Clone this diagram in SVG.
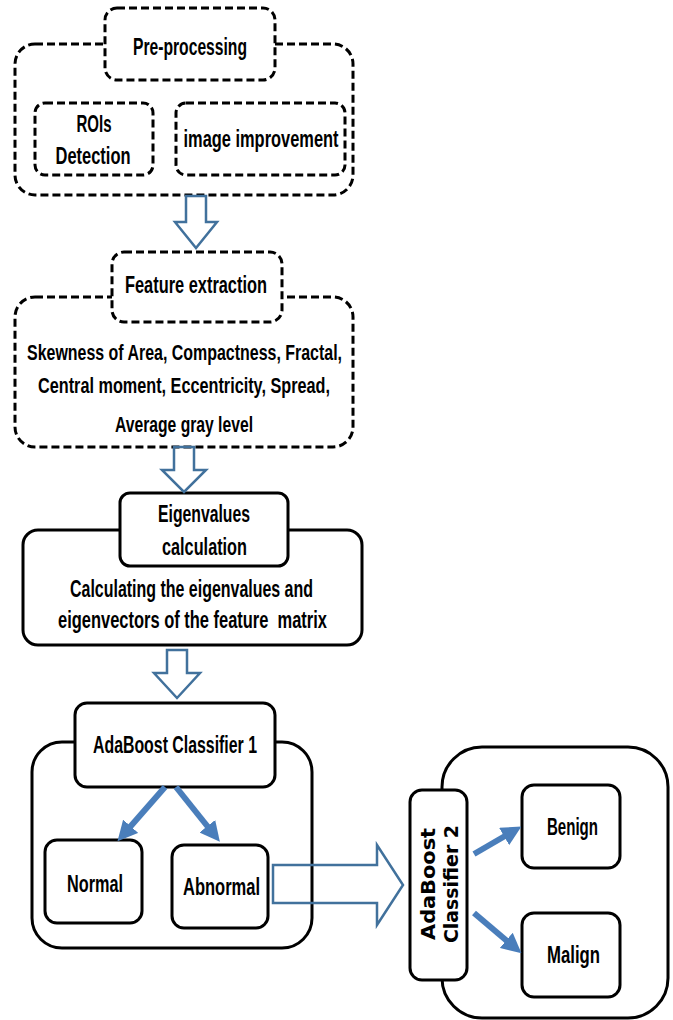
<svg xmlns="http://www.w3.org/2000/svg" width="673" height="1020" viewBox="0 0 673 1020">
<style>
  .dash { fill: #ffffff; stroke: #000; stroke-width: 3; stroke-dasharray: 8 4; }
  .solid { fill: #ffffff; stroke: #000; stroke-width: 3; }
  .hollow { fill: none; stroke: #41719C; stroke-width: 2.5; stroke-linejoin: miter; }
  .thick { stroke: #4A7EBB; stroke-width: 6; fill: none; marker-end: url(#head); }
  text { font-family: "Liberation Sans", Arial, sans-serif; font-weight: bold; fill: #000; text-anchor: middle; }
  .t21 { font-size: 23px; }
  .t19 { font-size: 21.5px; }
  .vert { font-family: "DejaVu Sans", Verdana, sans-serif; font-size: 20px; }
</style>
<defs>
  <marker id="head" viewBox="0 0 20 20" refX="1" refY="10" markerWidth="20" markerHeight="20" markerUnits="userSpaceOnUse" orient="auto">
    <path d="M0,0 L20,10 L0,20 z" fill="#4A7EBB"/>
  </marker>
</defs>

<g id="preprocessing">
  <rect class="dash" x="15" y="44" width="338" height="151" rx="20"/>
  <rect class="dash" x="105" y="8" width="170" height="72" rx="12"/>
  <text class="t21" x="190" y="55" textLength="114" lengthAdjust="spacingAndGlyphs">Pre-processing</text>
</g>
<g id="rois">
  <rect class="dash" x="35" y="103" width="118" height="72" rx="10"/>
  <text class="t21" x="94" y="132" textLength="35" lengthAdjust="spacingAndGlyphs">ROIs</text>
  <text class="t21" x="93" y="164" textLength="75" lengthAdjust="spacingAndGlyphs">Detection</text>
</g>
<g id="improvement">
  <rect class="dash" x="176" y="103" width="169" height="72" rx="10"/>
  <text class="t21" x="261" y="147" textLength="155" lengthAdjust="spacingAndGlyphs">image improvement</text>
</g>

<g id="feature">
  <rect class="dash" x="15" y="297" width="338" height="150" rx="20"/>
  <rect class="dash" x="112" y="252" width="170" height="70" rx="12"/>
  <text class="t21" x="196" y="293" textLength="142" lengthAdjust="spacingAndGlyphs">Feature extraction</text>
  <text class="t19" x="184.5" y="360" textLength="315" lengthAdjust="spacingAndGlyphs">Skewness of Area, Compactness, Fractal,</text>
  <text class="t19" x="184" y="393" textLength="292" lengthAdjust="spacingAndGlyphs">Central moment, Eccentricity, Spread,</text>
  <text class="t19" x="184" y="432" textLength="138" lengthAdjust="spacingAndGlyphs">Average gray level</text>
</g>

<g id="eigen">
  <rect class="solid" x="23" y="530" width="339" height="115" rx="15"/>
  <rect class="solid" x="120" y="493" width="168" height="73" rx="10"/>
  <text class="t21" x="204" y="522" textLength="92" lengthAdjust="spacingAndGlyphs">Eigenvalues</text>
  <text class="t21" x="204.5" y="555" textLength="85" lengthAdjust="spacingAndGlyphs">calculation</text>
  <text class="t21" x="191.5" y="597" textLength="243" lengthAdjust="spacingAndGlyphs">Calculating the eigenvalues and</text>
  <text class="t21" x="192.5" y="628" textLength="269" lengthAdjust="spacingAndGlyphs" xml:space="preserve">eigenvectors of the feature  matrix</text>
</g>

<g id="adaboost1">
  <rect class="solid" x="32" y="742" width="280" height="206" rx="30"/>
  <rect class="solid" x="75" y="703" width="200" height="84" rx="12"/>
  <text class="t21" x="175" y="753" textLength="164" lengthAdjust="spacingAndGlyphs">AdaBoost Classifier 1</text>
</g>
<g id="normal">
  <rect class="solid" x="45" y="840" width="97" height="83" rx="12"/>
  <text class="t21" x="95" y="892" textLength="56" lengthAdjust="spacingAndGlyphs">Normal</text>
</g>
<g id="abnormal">
  <rect class="solid" x="172" y="845" width="96" height="83" rx="12"/>
  <text class="t21" x="221.5" y="895" textLength="77" lengthAdjust="spacingAndGlyphs">Abnormal</text>
</g>

<g id="adaboost2-group">
  <rect class="solid" x="442" y="747" width="226" height="271" rx="40"/>
</g>
<g id="adaboost2">
  <rect class="solid" x="410" y="790" width="57" height="190" rx="12"/>
  <text class="vert" transform="translate(435,884) rotate(-90)" textLength="112" lengthAdjust="spacingAndGlyphs">AdaBoost</text>
  <text class="vert" transform="translate(458,884) rotate(-90)" textLength="118" lengthAdjust="spacingAndGlyphs">Classifier 2</text>
</g>
<g id="benign">
  <rect class="solid" x="522" y="785" width="98" height="83" rx="12"/>
  <text class="t21" x="572.5" y="835" textLength="51" lengthAdjust="spacingAndGlyphs">Benign</text>
</g>
<g id="malign">
  <rect class="solid" x="522" y="913" width="98" height="84" rx="12"/>
  <text class="t21" x="573.5" y="963" textLength="53" lengthAdjust="spacingAndGlyphs">Malign</text>
</g>

<g id="connectors">
  <polygon class="hollow" points="186,196 206,196 206,222 217,222 196,248 175,222 186,222"/>
  <polygon class="hollow" points="174,447 194,447 194,470 206,470 184,492 162,470 174,470"/>
  <polygon class="hollow" points="167,650 187,650 187,673 200,673 177,698 154,673 167,673"/>
  <polygon class="hollow" points="273,865 377,865 377,845 403,885 377,925 377,903 273,903"/>
  <line class="thick" x1="165" y1="787" x2="130" y2="827"/>
  <line class="thick" x1="176" y1="787" x2="208" y2="827"/>
  <line class="thick" x1="474" y1="854" x2="505" y2="836"/>
  <line class="thick" x1="474" y1="913" x2="507" y2="941"/>
</g>
</svg>
